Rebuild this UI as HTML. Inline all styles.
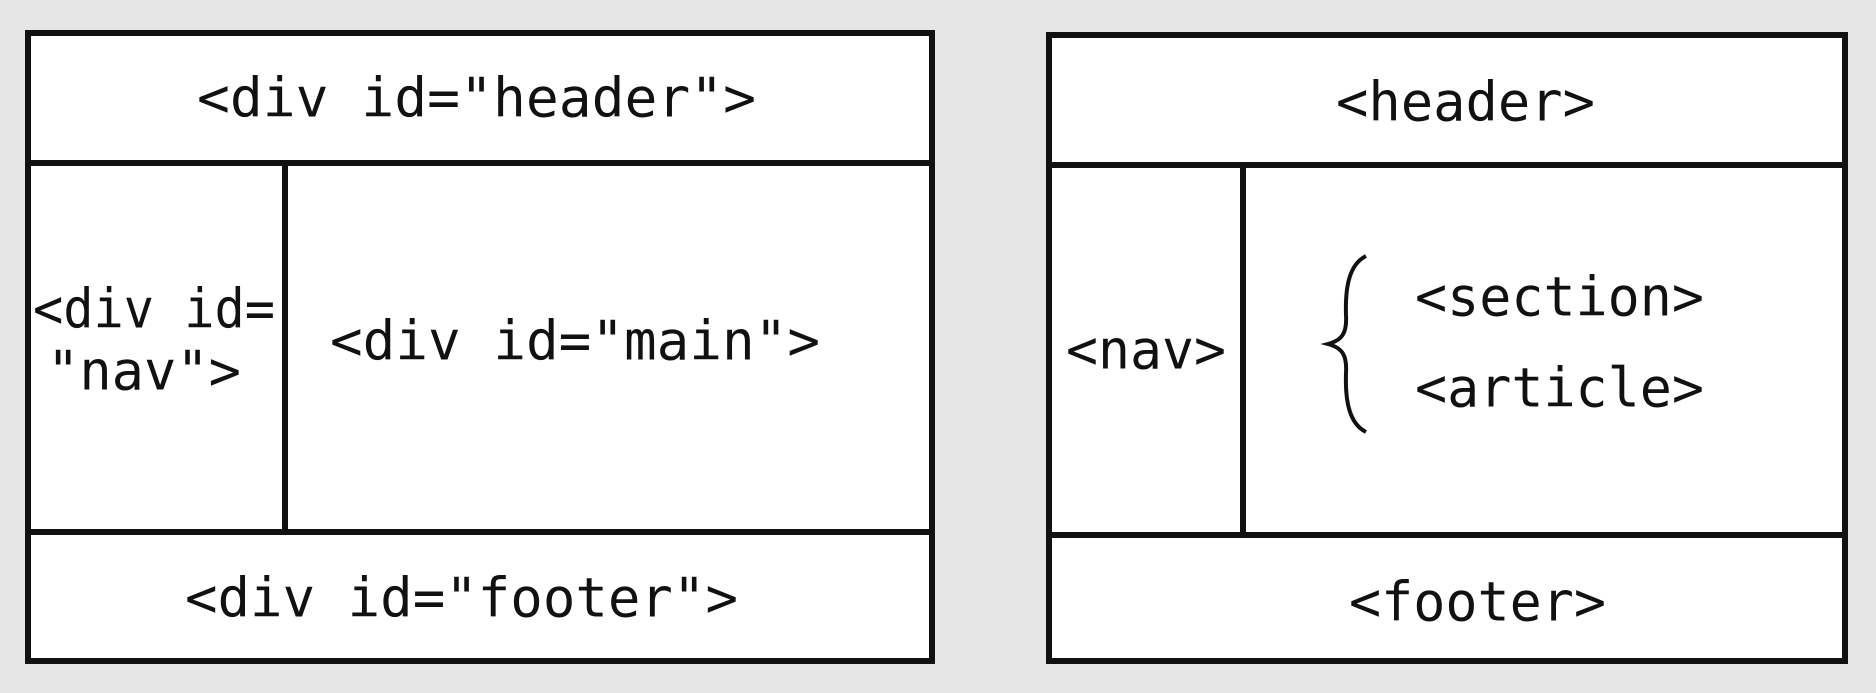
<!DOCTYPE html>
<html><head><meta charset="utf-8"><style>
html,body{margin:0;padding:0;background:#e6e6e6;}
svg{display:block}
text{font-family:"DejaVu Sans Mono","Liberation Mono",monospace;font-size:54px;fill:#111;dominant-baseline:central;}
</style></head><body>
<svg width="1876" height="693" viewBox="0 0 1876 693" xmlns="http://www.w3.org/2000/svg">
<rect x="0" y="0" width="1876" height="693" fill="#e6e6e6"/>
<!-- left -->
<rect x="28" y="33" width="904" height="628" fill="#fff" stroke="#111" stroke-width="6"/>
<line x1="28" y1="163" x2="932" y2="163" stroke="#111" stroke-width="6"/>
<line x1="28" y1="532" x2="932" y2="532" stroke="#111" stroke-width="6"/>
<line x1="285" y1="163" x2="285" y2="532" stroke="#111" stroke-width="6"/>
<text x="197" y="98" textLength="559" lengthAdjust="spacingAndGlyphs">&lt;div id="header"&gt;</text>
<text x="33" y="309" textLength="242" lengthAdjust="spacingAndGlyphs">&lt;div id=</text>
<text x="47" y="371" textLength="194" lengthAdjust="spacingAndGlyphs">"nav"&gt;</text>
<text x="330" y="341" textLength="490" lengthAdjust="spacingAndGlyphs">&lt;div id="main"&gt;</text>
<text x="185" y="598" textLength="553" lengthAdjust="spacingAndGlyphs">&lt;div id="footer"&gt;</text>
<!-- right -->
<rect x="1049" y="35" width="796" height="626" fill="#fff" stroke="#111" stroke-width="6"/>
<line x1="1049" y1="165" x2="1845" y2="165" stroke="#111" stroke-width="6"/>
<line x1="1049" y1="535" x2="1845" y2="535" stroke="#111" stroke-width="6"/>
<line x1="1243" y1="165" x2="1243" y2="535" stroke="#111" stroke-width="6"/>
<text x="1336" y="102" textLength="259" lengthAdjust="spacingAndGlyphs">&lt;header&gt;</text>
<text x="1066" y="350" textLength="160" lengthAdjust="spacingAndGlyphs">&lt;nav&gt;</text>
<text x="1415" y="297" textLength="289" lengthAdjust="spacingAndGlyphs">&lt;section&gt;</text>
<text x="1415" y="388" textLength="289" lengthAdjust="spacingAndGlyphs">&lt;article&gt;</text>
<text x="1349" y="602" textLength="257" lengthAdjust="spacingAndGlyphs">&lt;footer&gt;</text>
<path d="M1366 256 C1350 264 1345 285 1346 315 C1347 332 1343 340 1328 344 C1343 348 1347 356 1346 373 C1345 403 1350 424 1366 432" fill="none" stroke="#111" stroke-width="4"/>
</svg>
</body></html>
